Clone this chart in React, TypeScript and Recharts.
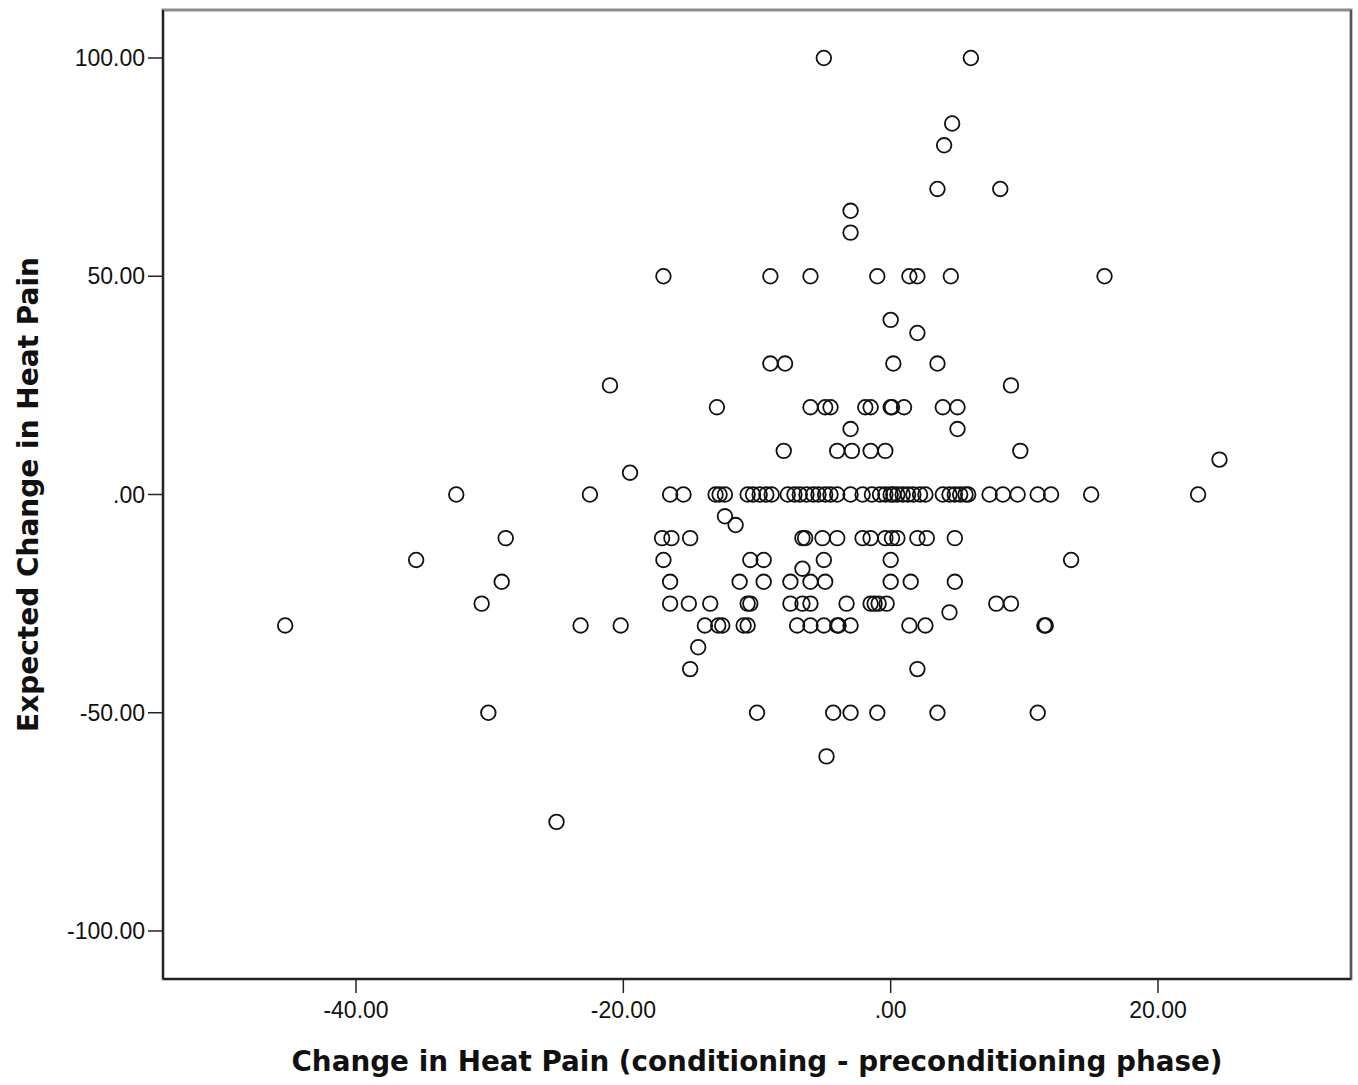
import { ScatterChart, Scatter, XAxis, YAxis, ReferenceArea, ReferenceLine } from 'recharts'

// Change in heat pain (x) for each expected-change level (y)
const pain100 = [-5.0, 6.0]
const pain85 = [4.6]
const pain80 = [4.0]
const pain70 = [3.5, 8.2]
const pain65 = [-3.0]
const pain60 = [-3.0]
const pain50 = [-17.0, -9.0, -6.0, -1.0, 1.4, 2.0, 4.5, 16.0]
const pain40 = [0.0]
const pain37 = [2.0]
const pain30 = [-9.0, -7.9, 0.2, 3.5]
const pain25 = [-21.0, 9.0]
const pain20 = [-13.0, -6.0, -4.9, -4.5, -1.9, -1.5, 0.0, 0.1, 1.0, 3.9, 5.0]
const pain15 = [-3.0, 5.0]
const pain10 = [-8.0, -4.0, -2.9, -1.5, -0.4, 9.7]
const pain8 = [24.6]
const pain5 = [-19.5]
const pain0 = [
  -32.5, -22.5, -16.5, -15.5, -13.1, -12.8, -12.4, -10.7, -10.3, -9.8, -9.3, -8.9,
  -7.7, -7.2, -6.8, -6.3, -5.8, -5.4, -4.9, -4.5, -4.0, -3.0, -2.1, -1.4, -0.8, -0.4,
  0.0, 0.2, 0.5, 0.9, 1.3, 1.7, 2.2, 2.6, 3.9, 4.4, 4.8, 5.2, 5.6, 5.8, 7.4, 8.4, 9.5,
  11.0, 12.0, 15.0, 23.0,
]
const painMinus5 = [-12.4]
const painMinus7 = [-11.6]
const painMinus10 = [-28.8, -17.1, -16.4, -15.0, -6.6, -6.4, -5.1, -4.0, -2.1, -1.5, -0.4, 0.1, 0.5, 2.0, 2.7, 4.8]
const painMinus15 = [-35.5, -17.0, -10.5, -9.5, -5.0, 0.0, 13.5]
const painMinus17 = [-6.6]
const painMinus20 = [-29.1, -16.5, -11.3, -9.5, -7.5, -6.0, -4.9, 0.0, 1.5, 4.8]
const painMinus25 = [-30.6, -16.5, -15.1, -13.5, -10.7, -10.5, -7.5, -6.6, -6.0, -3.3, -1.5, -1.2, -0.9, -0.3, 7.9, 9.0]
const painMinus27 = [4.4]
const painMinus30 = [-45.3, -23.2, -20.2, -13.9, -12.9, -12.6, -11.0, -10.7, -7.0, -6.0, -5.0, -4.0, -3.9, -3.0, 1.4, 2.6, 11.5, 11.6]
const painMinus35 = [-14.4]
const painMinus40 = [-15.0, 2.0]
const painMinus50 = [-30.1, -10.0, -4.3, -3.0, -1.0, 3.5, 11.0]
const painMinus60 = [-4.8]
const painMinus75 = [-25.0]

const rows: [number, number[]][] = [
  [100, pain100], [85, pain85], [80, pain80], [70, pain70], [65, pain65], [60, pain60],
  [50, pain50], [40, pain40], [37, pain37], [30, pain30], [25, pain25], [20, pain20],
  [15, pain15], [10, pain10], [8, pain8], [5, pain5], [0, pain0], [-5, painMinus5],
  [-7, painMinus7], [-10, painMinus10], [-15, painMinus15], [-17, painMinus17],
  [-20, painMinus20], [-25, painMinus25], [-27, painMinus27], [-30, painMinus30],
  [-35, painMinus35], [-40, painMinus40], [-50, painMinus50], [-60, painMinus60],
  [-75, painMinus75],
]

const X_TICKS = [-40, -20, 0, 20]
const Y_TICKS = [-100, -50, 0, 50, 100]
const X_DOMAIN: [number, number] = [-54.44, 34.44]
const Y_DOMAIN: [number, number] = [-111, 111]

const fmt = (v: number) => (v === 0 ? '.00' : v.toFixed(2))

const points = rows.flatMap(([expected, pains]) => pains.map((p) => ({ pain: p, expected })))

const tickStyle = { fill: '#111', fontSize: 23, fontFamily: '"Liberation Sans", Arial, sans-serif' }
const titleFont = '"DejaVu Sans", Verdana, sans-serif'

const Ring = (props: any) => (
  <circle cx={props.cx} cy={props.cy} r={7.3} fill="none" stroke="#111" strokeWidth={1.8} />
)

export default function App() {
  return (
    <div style={{ position: 'absolute', left: 0, top: 0, width: 1358, height: 1085, background: '#fff' }}>
      <ScatterChart width={1358} height={1085} margin={{ top: 10, right: 7, bottom: 0, left: 0 }}>
        <ReferenceArea
          x1={X_DOMAIN[0]}
          x2={X_DOMAIN[1]}
          y1={Y_DOMAIN[0]}
          y2={Y_DOMAIN[1]}
          fill="none"
          stroke="#8c8c8c"
          strokeWidth={3}
          ifOverflow="visible"
        />
        <ReferenceLine x={X_DOMAIN[1]} stroke="#555" strokeWidth={2} ifOverflow="visible" />
        <XAxis
          type="number"
          dataKey="pain"
          domain={X_DOMAIN}
          ticks={X_TICKS}
          tickFormatter={fmt}
          allowDataOverflow
          height={106}
          tickSize={14}
          tickMargin={9}
          tick={tickStyle}
          stroke="#222"
          axisLine={{ stroke: '#222', strokeWidth: 2 }}
          tickLine={{ stroke: '#222', strokeWidth: 1.5 }}
          label={{
            content: (p: any) => {
              const vb = p.viewBox
              return (
                <text
                  x={vb.x + vb.width / 2}
                  y={1071}
                  textAnchor="middle"
                  fontFamily={titleFont}
                  fontWeight="bold"
                  fontSize={27.8}
                  fill="#111"
                >
                  Change in Heat Pain (conditioning - preconditioning phase)
                </text>
              )
            },
          }}
        />
        <YAxis
          type="number"
          dataKey="expected"
          domain={Y_DOMAIN}
          ticks={Y_TICKS}
          tickFormatter={fmt}
          allowDataOverflow
          width={163}
          tickSize={15}
          tickMargin={3}
          tick={tickStyle}
          stroke="#222"
          axisLine={{ stroke: '#222', strokeWidth: 2 }}
          tickLine={{ stroke: '#222', strokeWidth: 1.5 }}
          label={{
            content: (p: any) => {
              const vb = p.viewBox
              const cy = vb.y + vb.height / 2
              return (
                <text
                  x={38}
                  y={cy}
                  transform={`rotate(-90, 38, ${cy})`}
                  textAnchor="middle"
                  fontFamily={titleFont}
                  fontWeight="bold"
                  fontSize={28}
                  fill="#111"
                >
                  Expected Change in Heat Pain
                </text>
              )
            },
          }}
        />
        <Scatter data={points} shape={Ring} isAnimationActive={false} />
      </ScatterChart>
    </div>
  )
}
